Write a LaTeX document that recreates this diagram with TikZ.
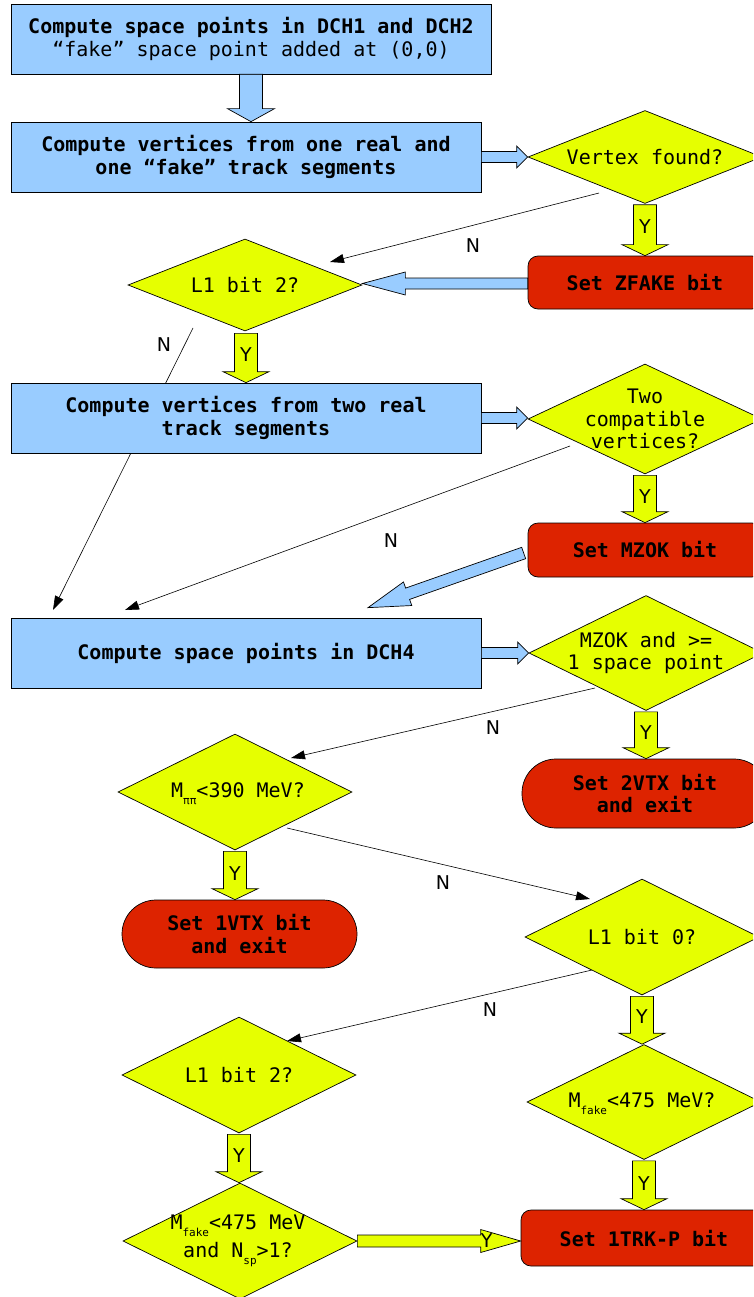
\documentclass[tikz,border=0pt]{standalone}
\usepackage{fontspec}
\setmonofont{DejaVu Sans Mono}
\setsansfont{DejaVu Sans}
\usetikzlibrary{shapes.geometric,arrows.meta,calc}
\pgfdeclarelayer{bg}
\pgfsetlayers{bg,main}
\definecolor{boxblue}{RGB}{153,204,255}
\definecolor{diayellow}{RGB}{230,255,0}
\definecolor{setred}{RGB}{221,35,0}
\newcommand\lowsub[1]{\raisebox{-7pt}{\fontsize{11}{11}\selectfont #1}}
\newcommand\blockarrow[6]{%
  \coordinate (baS) at #2;
  \coordinate (baE) at #3;
  \coordinate (baB) at ($(baE)!#6!(baS)$);
  \draw[fill=#1,line width=0.7pt,line join=miter]
    ($(baS)!#4!90:(baE)$) -- ($(baB)!#4!-90:(baS)$) -- ($(baB)!#5!-90:(baS)$) -- (baE)
    -- ($(baB)!#5!90:(baS)$) -- ($(baB)!#4!90:(baS)$) -- ($(baS)!#4!-90:(baE)$) -- cycle;
}
\tikzset{
  box/.style={draw, fill=boxblue, line width=0.7pt, minimum width=470pt, minimum height=70pt,
    inner sep=0pt, align=center, font=\ttfamily\bfseries\fontsize{20}{22.5}\selectfont},
  dia/.style={draw, fill=diayellow, line width=0.7pt, shape=diamond, inner sep=0pt, minimum width=234pt},
  dtext/.style={inner sep=0pt, align=center, font=\ttfamily\fontsize{20}{22.5}\selectfont},
  setbox/.style={draw, fill=setred, line width=0.7pt, rounded corners=10pt, inner sep=0pt,
    align=center, font=\ttfamily\bfseries\fontsize{20}{22.5}\selectfont},
  yn/.style={inner sep=0pt, font=\sffamily\fontsize{19}{19}\selectfont},
  nline/.style={line width=0.6pt, -{Triangle[length=14pt,width=9pt]}},
}
\begin{document}
\begin{tikzpicture}[x=1pt,y=-1pt]
\useasboundingbox (0,0) rectangle (753,1297);
\clip (0,0) rectangle (753,1297);
% boxes
\node[box, minimum width=480pt] (box1) at (251,39) {Compute space points in DCH1 and DCH2\\{\mdseries “fake” space point added at (0,0)}};
\node[box] (box2) at (246,157) {Compute vertices from one real and\\one “fake” track segments};
\node[box] (box3) at (246,418) {Compute vertices from two real\\track segments};
\node[box] (box4) at (246,653) {Compute space points in DCH4};
% diamonds
\node[dia, minimum height=93pt] (d1) at (645,157) {};
\node[dtext] (t1) at (d1.center) {Vertex found?};
\node[dia, minimum height=92pt] (d2) at (245,285) {};
\node[dtext] (t2) at (d2.center) {L1 bit 2?};
\node[dia, minimum height=110pt] (d3) at (645,419) {};
\node[dtext] (t3) at (d3.center) {Two\\compatible\\vertices?};
\node[dia, minimum height=115pt] (d4) at (646,653) {};
\node[dtext] (t4) at (d4.center) {MZOK and >=\\1 space point};
\node[dia, minimum height=116pt] (d5) at (235,792) {};
\node[dtext] (t5) at ($(d5.center)+(3,2)$) {M\lowsub{ππ}<390 MeV?};
\node[dia, minimum height=116pt] (d6) at (642,937) {};
\node[dtext] (t6) at (d6.center) {L1 bit 0?};
\node[dia, minimum height=115pt] (d7) at (644,1102) {};
\node[dtext] (t7) at ($(d7.center)+(-2,2)$) {M\lowsub{fake}<475 MeV?};
\node[dia, minimum height=116pt] (d8) at (239,1075) {};
\node[dtext] (t8) at (d8.center) {L1 bit 2?};
\node[dia, minimum height=116pt] (d9) at (240,1241) {};
\node[dtext] (t9) at ($(d9.center)+(-2,0)$) {M\lowsub{fake}<475 MeV\\[5pt]and N\lowsub{sp}>1?};
% red boxes
\node[setbox, minimum width=234pt, minimum height=53pt] (zfake) at (645,282.5) {Set ZFAKE bit};
\node[setbox, minimum width=234pt, minimum height=54pt] (mzok) at (645,550) {Set MZOK bit};
\node[setbox, minimum width=246pt, minimum height=69pt, rounded corners=34pt] (vtx2) at (645,793.5) {Set 2VTX bit\\and exit};
\node[setbox, minimum width=235pt, minimum height=68pt, rounded corners=34pt] (vtx1) at (239.5,934) {Set 1VTX bit\\and exit};
\node[setbox, minimum width=246pt, minimum height=56pt] (trk) at (644,1238) {Set 1TRK-P bit};
% N connectors
\begin{pgfonlayer}{bg}
\draw[nline] ($(d1.center)+(-46,36)$) -- ($(d2.center)+(85,-23)$);
\draw[nline] ($(d2.center)+(-52,43)$) -- ($(box4.center)+(-193,-43)$);
\draw[nline] ($(d3.center)+(-75,27)$) -- ($(box4.center)+(-121,-43)$);
\draw[nline] ($(d4.center)+(-51,35)$) -- ($(d5.center)+(56,-34)$);
\draw[nline] ($(d5.center)+(52,36)$) -- ($(d6.center)+(-52,-38)$);
\draw[nline] ($(d6.center)+(-50,33)$) -- ($(d8.center)+(48,-34)$);
\end{pgfonlayer}
\node[yn] (n1) at (473,246) {N};
\node[yn] (n2) at (164,345) {N};
\node[yn] (n3) at (391,541) {N};
\node[yn] (n4) at (493,728) {N};
\node[yn] (n5) at (443,883) {N};
\node[yn] (n6) at (490,1010) {N};
% blue block arrows
\blockarrow{boxblue}{(box1.south)}{(box1.south |- box2.north)}{11.5pt}{23.5pt}{13pt}
\blockarrow{boxblue}{(box2.east)}{(box2.east -| d1.west)}{5.5pt}{11pt}{11pt}
\blockarrow{boxblue}{(box3.east)}{(box3.east -| d3.west)}{5.5pt}{11pt}{11pt}
\blockarrow{boxblue}{(box4.east)}{(box4.east -| d4.west)}{5.5pt}{11pt}{11pt}
\blockarrow{boxblue}{($(zfake.west)+(0,1)$)}{($(zfake.west -| d2.east)+(0,1)$)}{5.5pt}{11.5pt}{43pt}
\blockarrow{boxblue}{($(mzok.west)+(-4,3)$)}{($(box4.north)+(122,-10)$)}{6pt}{12.5pt}{42pt}
% yellow block arrows
\blockarrow{diayellow}{($(d1.south)+(0,1)$)}{(d1.south |- zfake.north)}{11.5pt}{23pt}{11pt}
\blockarrow{diayellow}{($(d2.south)+(1,2)$)}{($(d2.south |- box3.north)+(1,0)$)}{11.5pt}{23pt}{11pt}
\blockarrow{diayellow}{($(d3.south)+(0,1)$)}{(d3.south |- mzok.north)}{11.5pt}{23pt}{11pt}
\blockarrow{diayellow}{($(d4.south)+(0,1)$)}{(d4.south |- vtx2.north)}{11.5pt}{23pt}{11pt}
\blockarrow{diayellow}{($(d5.south)+(0,1)$)}{(d5.south |- vtx1.north)}{11.5pt}{23pt}{11pt}
\blockarrow{diayellow}{($(d6.south)+(0,1)$)}{(d6.south |- d7.north)}{11.5pt}{23pt}{11pt}
\blockarrow{diayellow}{($(d7.south)+(0,1)$)}{(d7.south |- trk.north)}{11.5pt}{23pt}{11pt}
\blockarrow{diayellow}{($(d8.south)+(0,1)$)}{(d8.south |- d9.north)}{11.5pt}{23pt}{11pt}
\blockarrow{diayellow}{(d9.east)}{(d9.east -| trk.west)}{6pt}{11.5pt}{40pt}
% Y labels
\node[yn] (y1) at ($(d1.south)+(0,22.5)$) {Y};
\node[yn] (y2) at ($(d2.south)+(1,23)$) {Y};
\node[yn] (y3) at ($(d3.south)+(0,22)$) {Y};
\node[yn] (y4) at ($(d4.south)+(0,22)$) {Y};
\node[yn] (y5) at ($(d5.south)+(0,23)$) {Y};
\node[yn] (y6) at ($(d6.south)+(0,21)$) {Y};
\node[yn] (y7) at ($(d7.south)+(0,23.5)$) {Y};
\node[yn] (y8) at ($(d8.south)+(0,22)$) {Y};
\node[yn] (y9) at ($(trk.west)+(-34,3)$) {Y};
\end{tikzpicture}
\end{document}
